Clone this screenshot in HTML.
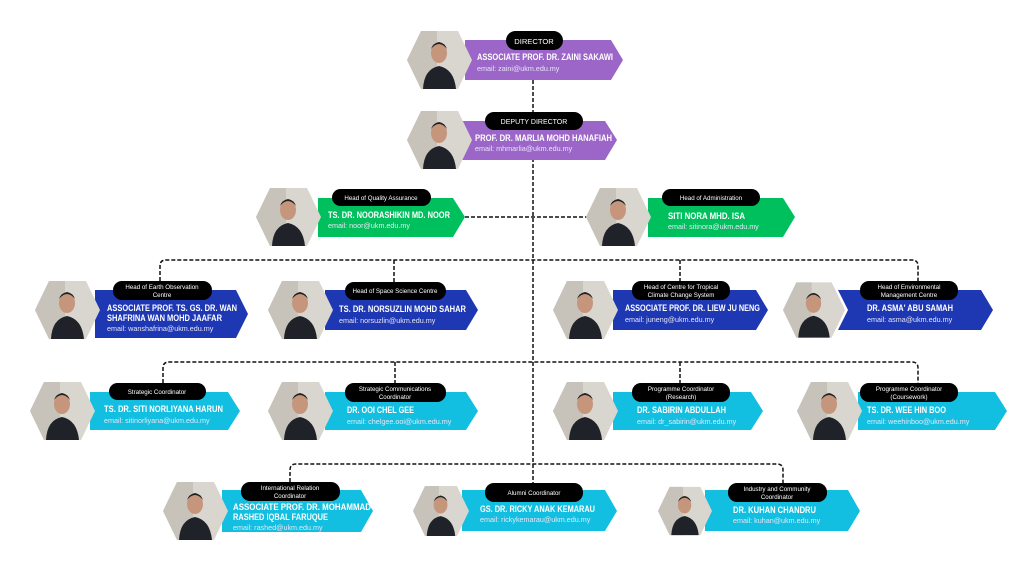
<!DOCTYPE html>
<html><head><meta charset="utf-8"><style>
html,body{margin:0;padding:0;background:#fff;}
svg{display:block;}
text{font-family:"Liberation Sans",sans-serif;}
.n{font-size:9px;font-weight:bold;fill:#fff;}
.e{font-size:7.2px;fill:#e6e6f5;}
.p{font-size:6.2px;fill:#fff;text-anchor:middle;}
.pd{font-size:7.6px;fill:#fff;text-anchor:middle;}
.c{fill:none;stroke:#111;stroke-width:1.5;stroke-dasharray:4 2;}
</style></head><body>
<svg width="1024" height="576" viewBox="0 0 1024 576" xmlns="http://www.w3.org/2000/svg">
<defs>
<symbol id="ph" viewBox="0 0 65 58" width="65" height="58">
<polygon points="14,0 51,0 65,29 51,58 14,58 0,29" fill="#d9d5cf"/>
<polygon points="14,0 30,0 30,58 14,58 0,29" fill="#c7c2ba"/>
<path d="M16,58 Q17,38 32,35 Q47,38 49,58 Z" fill="#1f2228"/>
<ellipse cx="32" cy="22" rx="8" ry="10" fill="#c5967c"/>
<path d="M24,18 Q32,8 40,18 Q38,12 32,11 Q26,12 24,18Z" fill="#222"/>
</symbol>
</defs>

<path class="c" d="M533 80 V490"/>
<path class="c" d="M465 217 H588"/>
<path class="c" d="M160 281 V266 Q160 260 166 260 H912 Q918 260 918 266 V281"/>
<path class="c" d="M394 260 V284 M680 260 V281"/>
<path class="c" d="M163 383 V368 Q163 362 169 362 H912 Q918 362 918 368 V383"/>
<path class="c" d="M395 362 V383 M680 362 V383"/>
<path class="c" d="M290 482 V470 Q290 464 296 464 H777 Q783 464 783 470 V483"/>

<polygon points="465,40 611,40 623,60 611,80 465,80" fill="#9b66c8"/>
<use href="#ph" x="407" y="30" width="65" height="60"/>
<rect x="506" y="31" width="57" height="19" rx="9.5" fill="#000"/>
<text class="pd" x="534" y="44">DIRECTOR</text>
<text class="n" x="477" y="60" textLength="136" lengthAdjust="spacingAndGlyphs">ASSOCIATE PROF. DR. ZAINI SAKAWI</text>
<text class="e" x="477" y="71">email: zaini@ukm.edu.my</text>

<polygon points="462,121 605,121 617,140 605,160 462,160" fill="#9b66c8"/>
<use href="#ph" x="407" y="111" width="65" height="58"/>
<rect x="485" y="112" width="98" height="18" rx="9" fill="#000"/>
<text class="p" x="534" y="124" style="font-size:7px">DEPUTY DIRECTOR</text>
<text class="n" x="475" y="141" textLength="137" lengthAdjust="spacingAndGlyphs">PROF. DR. MARLIA MOHD HANAFIAH</text>
<text class="e" x="475" y="151">email: mhmarlia@ukm.edu.my</text>

<polygon points="318,198 453,198 465,217 453,237 318,237" fill="#00c05e"/>
<use href="#ph" x="256" y="188" width="65" height="58"/>
<rect x="332" y="189" width="99" height="17" rx="8.5" fill="#000"/>
<text class="p" x="381" y="200">Head of Quality Assurance</text>
<text class="n" x="328" y="218" textLength="122" lengthAdjust="spacingAndGlyphs">TS. DR. NOORASHIKIN MD. NOOR</text>
<text class="e" x="328" y="228">email: noor@ukm.edu.my</text>

<polygon points="648,198 783,198 795,217 783,237 648,237" fill="#00c05e"/>
<use href="#ph" x="586" y="188" width="65" height="58"/>
<rect x="662" y="189" width="98" height="17" rx="8.5" fill="#000"/>
<text class="p" x="711" y="200">Head of Administration</text>
<text class="n" x="668" y="219" textLength="77" lengthAdjust="spacingAndGlyphs">SITI NORA MHD. ISA</text>
<text class="e" x="668" y="229">email: sitinora@ukm.edu.my</text>

<polygon points="95,290 236,290 248,314 236,338 95,338" fill="#1e37b2"/>
<use href="#ph" x="35" y="281" width="65" height="58"/>
<rect x="113" y="281" width="99" height="19" rx="9" fill="#000"/>
<text class="p" x="162" y="289">Head of Earth Observation</text>
<text class="p" x="162" y="297">Centre</text>
<text class="n" x="107" y="311" textLength="130" lengthAdjust="spacingAndGlyphs">ASSOCIATE PROF. TS. GS. DR. WAN</text>
<text class="n" x="107" y="321" textLength="115" lengthAdjust="spacingAndGlyphs">SHAFRINA WAN MOHD JAAFAR</text>
<text class="e" x="107" y="331">email: wanshafrina@ukm.edu.my</text>

<polygon points="325,290 466,290 478,310 466,330 325,330" fill="#1e37b2"/>
<use href="#ph" x="268" y="281" width="65" height="58"/>
<rect x="345" y="282" width="101" height="18" rx="9" fill="#000"/>
<text class="p" x="395" y="293">Head of Space Science Centre</text>
<text class="n" x="339" y="312" textLength="127" lengthAdjust="spacingAndGlyphs">TS. DR. NORSUZLIN MOHD SAHAR</text>
<text class="e" x="339" y="323">email: norsuzlin@ukm.edu.my</text>

<polygon points="613,290 756,290 768,310 756,330 613,330" fill="#1e37b2"/>
<use href="#ph" x="553" y="281" width="65" height="58"/>
<rect x="632" y="281" width="98" height="19" rx="9" fill="#000"/>
<text class="p" x="681" y="289">Head of Centre for Tropical</text>
<text class="p" x="681" y="297">Climate Change System</text>
<text class="n" x="625" y="311" textLength="135" lengthAdjust="spacingAndGlyphs">ASSOCIATE PROF. DR. LIEW JU NENG</text>
<text class="e" x="625" y="322">email:  juneng@ukm.edu.my</text>

<polygon points="838,290 981,290 993,310 981,330 838,330 848,310" fill="#1e37b2"/>
<use href="#ph" x="783" y="281" width="62" height="58"/>
<rect x="860" y="281" width="98" height="19" rx="9" fill="#000"/>
<text class="p" x="909" y="289">Head of Environmental</text>
<text class="p" x="909" y="297">Management Centre</text>
<text class="n" x="867" y="311" textLength="86" lengthAdjust="spacingAndGlyphs">DR. ASMA' ABU SAMAH</text>
<text class="e" x="867" y="322">email: asma@ukm.edu.my</text>

<polygon points="90,392 228,392 240,411 228,430 90,430" fill="#12bfe0"/>
<use href="#ph" x="30" y="382" width="65" height="58"/>
<rect x="109" y="383" width="97" height="17" rx="8.5" fill="#000"/>
<text class="p" x="157" y="394">Strategic Coordinator</text>
<text class="n" x="104" y="412" textLength="119" lengthAdjust="spacingAndGlyphs">TS. DR. SITI NORLIYANA HARUN</text>
<text class="e" x="104" y="423">email: sitinorliyana@ukm.edu.my</text>

<polygon points="325,392 466,392 478,411 466,430 325,430" fill="#12bfe0"/>
<use href="#ph" x="268" y="382" width="65" height="58"/>
<rect x="345" y="383" width="101" height="19" rx="9" fill="#000"/>
<text class="p" x="395" y="391">Strategic Communications</text>
<text class="p" x="395" y="399">Coordinator</text>
<text class="n" x="347" y="413" textLength="67" lengthAdjust="spacingAndGlyphs">DR. OOI CHEL GEE</text>
<text class="e" x="347" y="424">email: chelgee.ooi@ukm.edu.my</text>

<polygon points="613,392 751,392 763,411 751,430 613,430" fill="#12bfe0"/>
<use href="#ph" x="553" y="382" width="65" height="58"/>
<rect x="632" y="383" width="98" height="19" rx="9" fill="#000"/>
<text class="p" x="681" y="391">Programme Coordinator</text>
<text class="p" x="681" y="399">(Research)</text>
<text class="n" x="637" y="413" textLength="89" lengthAdjust="spacingAndGlyphs">DR. SABIRIN ABDULLAH</text>
<text class="e" x="637" y="424">email: dr_sabirin@ukm.edu.my</text>

<polygon points="858,392 995,392 1007,411 995,430 858,430" fill="#12bfe0"/>
<use href="#ph" x="797" y="382" width="65" height="58"/>
<rect x="860" y="383" width="98" height="19" rx="9" fill="#000"/>
<text class="p" x="909" y="391">Programme Coordinator</text>
<text class="p" x="909" y="399">(Coursework)</text>
<text class="n" x="867" y="413" textLength="79" lengthAdjust="spacingAndGlyphs">TS. DR. WEE HIN BOO</text>
<text class="e" x="867" y="424">email: weehinboo@ukm.edu.my</text>

<polygon points="222,490 361,490 373,511 361,532 222,532" fill="#12bfe0"/>
<use href="#ph" x="163" y="482" width="65" height="58"/>
<rect x="241" y="482" width="99" height="19" rx="9" fill="#000"/>
<text class="p" x="290" y="490">International Relation</text>
<text class="p" x="290" y="498">Coordinator</text>
<text class="n" x="233" y="510" textLength="138" lengthAdjust="spacingAndGlyphs">ASSOCIATE PROF. DR. MOHAMMAD</text>
<text class="n" x="233" y="520" textLength="95" lengthAdjust="spacingAndGlyphs">RASHED IQBAL FARUQUE</text>
<text class="e" x="233" y="530">email: rashed@ukm.edu.my</text>

<polygon points="462,490 605,490 617,511 605,531 462,531" fill="#12bfe0"/>
<use href="#ph" x="413" y="482" width="56" height="58"/>
<rect x="485" y="483" width="98" height="19" rx="9" fill="#000"/>
<text class="p" x="534" y="495">Alumni Coordinator</text>
<text class="n" x="480" y="512" textLength="115" lengthAdjust="spacingAndGlyphs">GS. DR. RICKY ANAK KEMARAU</text>
<text class="e" x="480" y="522">email: rickykemarau@ukm.edu.my</text>

<polygon points="705,490 848,490 860,511 848,531 705,531" fill="#12bfe0"/>
<use href="#ph" x="658" y="482" width="54" height="58"/>
<rect x="728" y="483" width="99" height="19" rx="9" fill="#000"/>
<text class="p" x="777" y="491">Industry and Community</text>
<text class="p" x="777" y="499">Coordinator</text>
<text class="n" x="733" y="513" textLength="83" lengthAdjust="spacingAndGlyphs">DR. KUHAN CHANDRU</text>
<text class="e" x="733" y="523">email: kuhan@ukm.edu.my</text>
</svg>
</body></html>
